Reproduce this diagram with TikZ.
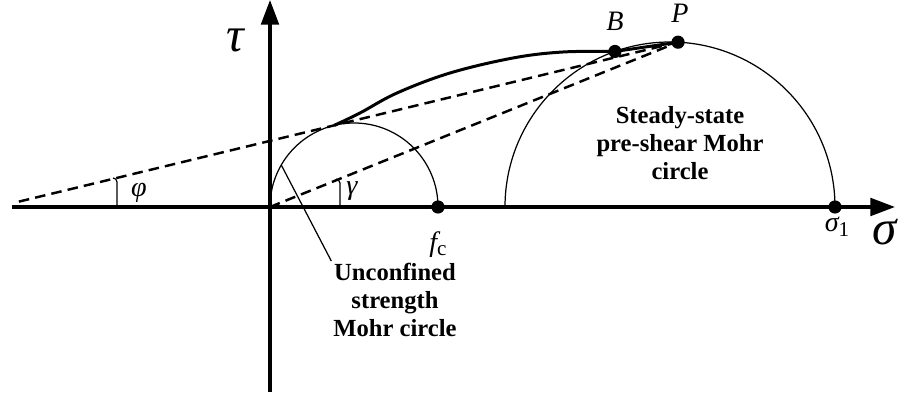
\documentclass[tikz,border=0pt]{standalone}
\usepackage{fontspec}
\setmainfont{Liberation Serif}
\usetikzlibrary{positioning,arrows.meta,calc}

\begin{document}
\begin{tikzpicture}[x=0.02cm, y=0.02cm,
  axis/.style={line width=1.9pt, -{Triangle[length=14pt,width=10pt]}},
  mohr/.style={line width=0.7pt},
  envline/.style={line width=1.4pt, dash pattern=on 6pt off 3.5pt},
  dot/.style={circle, fill=black, inner sep=0pt, minimum size=7.5pt},
  lbl/.style={font={\fontsize{16}{18}\selectfont\itshape}},
  bigl/.style={font={\fontsize{28}{30}\selectfont\itshape}},
  note/.style={align=center, inner sep=1pt, font={\fontsize{14}{16}\selectfont\bfseries}}
]
\useasboundingbox (-270,-191) rectangle (634,207);
\coordinate (O) at (0,0);
\coordinate (C1) at (84,0);
\coordinate (C2) at (400,0);
\coordinate (xl) at (-258,0);
\coordinate (xr) at (625,0);
\coordinate (yb) at (0,-185);
\coordinate (yt) at (0,207);
\coordinate (T) at ($(C1)+(103.6:84)$);
\coordinate (ptr) at ($(C1)+(150:84)$);
% axes
\draw[axis] (xl) -- (xr);
\draw[axis] (yb) -- (yt);
% Mohr circles
\draw[mohr] (0,0) arc[start angle=180, end angle=0, radius=84];
\draw[mohr] (235,0) arc[start angle=180, end angle=0, radius=165];
\node[dot] (P) at ($(C2)+(87.2:165)$) {};
\node[dot] (B) at ($(C2)+(109.5:165)$) {};
\node[dot] (fc) at (168,0) {};
\node[dot] (s1) at (565,0) {};
\coordinate (phi0) at ($(P.center)!1.93!(T)$);
% envelopes
\draw[envline] (P.center) -- (phi0);
\draw[envline] (O) -- (P.center);
\draw[line width=1.7pt, line join=round] plot[smooth, tension=0.6] coordinates {(T) (90,94) (127,114) (180,134) (243,149) (293,155) (B.center)} -- (P.center);
% angle marks
\draw[mohr] (-153,0) -- (-153,25) to[out=90, in=0] (-157,29);
\draw[mohr] (70,0) -- (70,24) to[out=90, in=-20] (66,28);
% labels
\node[bigl] (tau) at (-35,167) {τ};
\node[bigl] (sig) at (615,-25) {σ};
\node[lbl] (phil) at (-131,14) {φ};
\node[lbl] (gaml) at (82,16) {γ};
\node[lbl] (fcl) at (168,-38) {f\raisebox{-0.3ex}{\upshape\fontsize{12}{13}\selectfont c}};
\node[lbl] (s1l) at (567,-20) {σ\raisebox{-0.4ex}{\upshape\fontsize{12}{13}\selectfont 1}};
\node[lbl] (Bl) at (345,186) {B};
\node[lbl] (Pl) at (410,194) {P};
\node[note] (steady) at (410,64) {Steady-state\\pre-shear Mohr\\circle};
\node[note] (unconf) at (125,-93) {Unconfined\\strength\\Mohr circle};
\draw[mohr] (ptr) -- (unconf.north west);
\end{tikzpicture}
\end{document}
